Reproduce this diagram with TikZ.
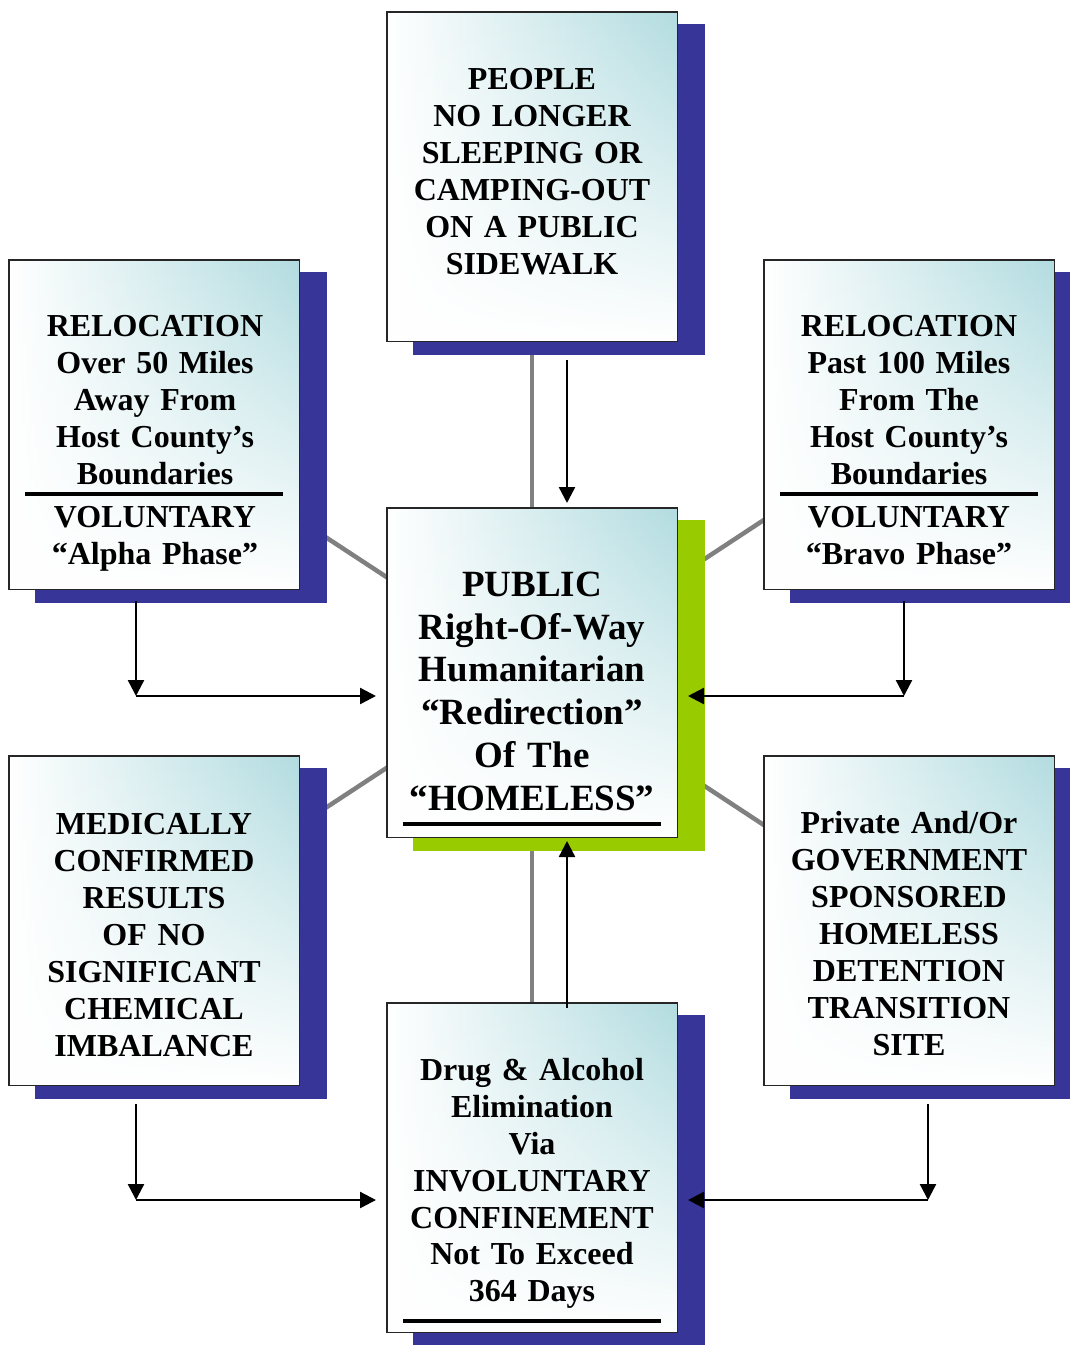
\documentclass[tikz,border=0pt]{standalone}
\usepackage{fontspec}
\setmainfont[WordSpace=0.7]{Liberation Serif}
\usetikzlibrary{arrows.meta,backgrounds,fadings,calc}
\definecolor{boxteal}{RGB}{178,220,224}
\definecolor{shblue}{RGB}{55,53,151}
\definecolor{shgreen}{RGB}{153,204,0}
\definecolor{conngray}{RGB}{128,128,128}
\tikzfading[name=fadebottom, top color=transparent!100, middle color=transparent!65, bottom color=transparent!0]
\newcommand\bxfont{\fontsize{32}{37}\selectfont\bfseries}
\newcommand\bxfontc{\fontsize{37}{42.8}\selectfont\bfseries}
\newcommand\bxfontb{\fontsize{32}{36.8}\selectfont\bfseries}
\begin{document}
\begin{tikzpicture}[x=1pt,y=-1pt,
  box/.style={draw=black!85, line width=1.5pt, minimum width=290.5pt, minimum height=329.5pt,
    inner sep=0pt,
    path picture={
      \shade[left color=white, middle color=boxteal!45!white, right color=boxteal]
        (path picture bounding box.south west) rectangle (path picture bounding box.north east);
      \fill[white, path fading=fadebottom]
        (path picture bounding box.south west) rectangle (path picture bounding box.north east);
    }},
  txt/.style={anchor=north, align=center, inner sep=0pt, text width=286pt, font=\bxfont},
  divider/.style={line width=3.5pt, black},
  grayconn/.style={line width=4.5pt, conngray},
  arr/.style={line width=2.4pt, black, -{Triangle[length=16pt,width=16pt]}},
]
\useasboundingbox (0,0) rectangle (1070,1345);

% boxes
\node[box] (T)  at (532,176.5) {};
\node[box] (L1) at (154,424.5) {};
\node[box] (R1) at (909,424.5) {};
\node[box] (C)  at (532,672.5) {};
\node[box] (L2) at (154,920.5) {};
\node[box] (R2) at (909,920.5) {};
\node[box] (B)  at (532,1167.5) {};

% texts
\node[txt] (Ttxt) at (532,68) {PEOPLE\\ NO LONGER\\ SLEEPING OR\\ CAMPING-OUT\\ ON A PUBLIC\\ SIDEWALK};
\node[txt] (L1txt) at (155,315) {RELOCATION\\ Over 50 Miles\\ Away From\\ Host County’s\\ Boundaries\\[6pt] VOLUNTARY\\ “Alpha Phase”};
\node[txt] (R1txt) at (909,315) {RELOCATION\\ Past 100 Miles\\ From The\\ Host County’s\\ Boundaries\\[6pt] VOLUNTARY\\ “Bravo Phase”};
\node[txt, font=\bxfontc] (Ctxt) at (532,571.5) {PUBLIC\\ Right-Of-Way\\ Humanitarian\\ “Redirection”\\ Of The\\ “HOMELESS”};
\node[txt] (L2txt) at (154,813) {MEDICALLY\\ CONFIRMED\\ RESULTS\\ OF NO\\ SIGNIFICANT\\ CHEMICAL\\ IMBALANCE};
\node[txt] (R2txt) at (909,811.5) {Private And/Or\\ GOVERNMENT\\ SPONSORED\\ HOMELESS\\ DETENTION\\ TRANSITION\\ SITE};
\node[txt, font=\bxfontb] (Btxt) at (532,1058.5) {Drug \& Alcohol\\ Elimination\\ Via\\ INVOLUNTARY\\ CONFINEMENT\\ Not To Exceed\\ 364 Days};

% dividers
\draw[divider] ($(L1.north west)+(17,235)$) -- ($(L1.north west)+(275,235)$);
\draw[divider] ($(R1.north west)+(17,235)$) -- ($(R1.north west)+(275,235)$);
\draw[divider] ($(C.north west)+(17,317)$) -- ($(C.north west)+(275,317)$);
\draw[divider] ($(B.north west)+(17,319)$) -- ($(B.north west)+(275,319)$);

% background: gray connectors and shadows
\begin{pgfonlayer}{background}
  \draw[grayconn] (T.center) -- (C.center);
  \draw[grayconn] (C.center) -- (B.center);
  \draw[grayconn] (L1.center) -- (C.center);
  \draw[grayconn] (R1.center) -- (C.center);
  \draw[grayconn] (L2.center) -- (C.center);
  \draw[grayconn] (R2.center) -- (C.center);
  \foreach \n in {T,L1,R1,L2,R2,B}{
    \fill[shblue] ([shift={(27,13)}]\n.north west) rectangle ([shift={(27,13)}]\n.south east);
  }
  \fill[shgreen] ([shift={(27,13)}]C.north west) rectangle ([shift={(27,13)}]C.south east);
\end{pgfonlayer}

% arrows
\draw[arr] ([xshift=35pt,yshift=-18pt]T.south) -- ([xshift=35pt,yshift=4pt]C.north);
\draw[arr] ([xshift=35pt,yshift=-6pt]B.north) -- ([xshift=35pt,yshift=-3pt]C.south);

\coordinate (l1a) at ([xshift=-18pt,yshift=-11pt]L1.south);
\coordinate (r1a) at ([xshift=-5pt,yshift=-11pt]R1.south);
\coordinate (l2a) at ([xshift=-18pt,yshift=-18pt]L2.south);
\coordinate (r2a) at ([xshift=19pt,yshift=-18pt]R2.south);
\coordinate (l1k) at (136,696);
\coordinate (r1k) at (904,696);
\coordinate (l2k) at (136,1200);
\coordinate (r2k) at (928,1200);

\draw[arr] (l1a) -- (l1k);
\draw[arr, shorten >=10pt] (l1k) -- (l1k -| C.west);
\draw[arr] (r1a) -- (r1k);
\draw[arr, shorten >=10pt] (r1k) -- (r1k -| C.east);
\draw[arr] (l2a) -- (l2k);
\draw[arr, shorten >=10pt] (l2k) -- (l2k -| B.west);
\draw[arr] (r2a) -- (r2k);
\draw[arr, shorten >=10pt] (r2k) -- (r2k -| B.east);
\end{tikzpicture}
\end{document}
